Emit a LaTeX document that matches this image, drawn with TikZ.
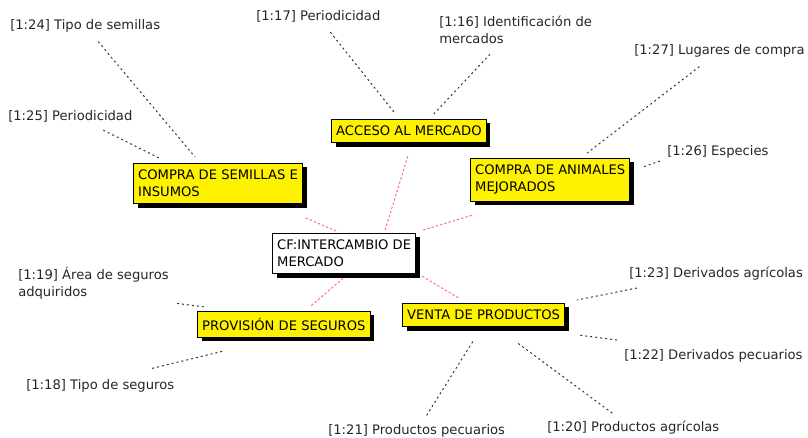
\documentclass[tikz,border=0pt]{standalone}
\usepackage{fontspec}
\setmainfont{DejaVu Sans}
\usetikzlibrary{shadows}

\begin{document}
\begin{tikzpicture}[x=0.75pt,y=-0.75pt,
		every node/.style={font=\fontsize{9.85}{12.75}\selectfont},
		code/.style={draw=black,line width=.75pt,fill=yellow,anchor=north west,align=left,inner xsep=3.5pt,inner ysep=5pt,
			drop shadow={shadow xshift=3pt,shadow yshift=-3pt,fill=black,opacity=1}},
		family/.style={code,fill=white},
		quote/.style={text=black!85,inner sep=0pt,align=left},
		redlink/.style={draw=red!55,line width=.75pt,dash pattern=on 1.8pt off 1.5pt},
		quotelink/.style={draw=black!80,line width=.75pt,dash pattern=on 1.5pt off 2.25pt}]
		\useasboundingbox (0,0) rectangle (808,438);

		\node[family] (cf) at (272,233) {CF:INTERCAMBIO DE\\MERCADO};
		\node[code] (acceso) at (331,119) {ACCESO AL MERCADO};
		\node[code] (semillas) at (133,163) {COMPRA DE SEMILLAS E\\INSUMOS};
		\node[code] (animales) at (470,158) {COMPRA DE ANIMALES\\MEJORADOS};
		\node[code] (provision) at (197,311) {PROVISIÓN DE SEGUROS};
		\node[code] (venta) at (402,303) {VENTA DE PRODUCTOS};

		\node[quote,anchor=west] (l24) at (10,26) {[1:24] Tipo de semillas};
		\node[quote,anchor=west] (l25) at (8,116) {[1:25] Periodicidad};
		\node[quote,anchor=west] (l17) at (256,16) {[1:17] Periodicidad};
		\node[quote,anchor=north west] (l16) at (439,16) {[1:16] Identificación de\\mercados};
		\node[quote,anchor=west] (l27) at (634,51) {[1:27] Lugares de compra};
		\node[quote,anchor=west] (l26) at (667,152) {[1:26] Especies};
		\node[quote,anchor=north west] (l19) at (18,267) {[1:19] Área de seguros\\adquiridos};
		\node[quote,anchor=west] (l18) at (26,386) {[1:18] Tipo de seguros};
		\node[quote,anchor=west] (l23) at (629,274) {[1:23] Derivados agrícolas};
		\node[quote,anchor=west] (l22) at (624,356) {[1:22] Derivados pecuarios};
		\node[quote,anchor=west] (l21) at (328,431) {[1:21] Productos pecuarios};
		\node[quote,anchor=west] (l20) at (547,428) {[1:20] Productos agrícolas};

		\draw[redlink] ([shift={(41,-3)}]cf.north) -- ([shift={(-1,13)}]acceso.south);
		\draw[redlink] ([shift={(-8,-2)}]cf.north) -- ([shift={(1,13)}]semillas.south east);
		\draw[redlink] ([shift={(7,-3)}]cf.north east) -- ([shift={(4,13)}]animales.south west);
		\draw[redlink] ([shift={(-1,4)}]cf.south) -- ([shift={(27,-5)}]provision.north);
		\draw[redlink] ([shift={(6,2)}]cf.south east) -- ([shift={(-25,-5)}]venta.north);

		\draw[quotelink] ([shift={(13,9)}]l24.south) -- ([shift={(-23,-6)}]semillas.north);
		\draw[quotelink] ([shift={(33,8)}]l25.south) -- ([shift={(28,-4)}]semillas.north west);
		\draw[quotelink] ([shift={(12,10)}]l17.south) -- ([shift={(-15,-7)}]acceso.north);
		\draw[quotelink] ([shift={(51,10)}]l16.south west) -- ([shift={(24,-4)}]acceso.north);
		\draw[quotelink] ([shift={(-20,9)}]l27.south) -- ([shift={(37,-5)}]animales.north);
		\draw[quotelink] ([shift={(-7,9)}]l26.west) -- ([shift={(13,-13)}]animales.east);
		\draw[quotelink] ([shift={(8,4)}]l19.south east) -- ([shift={(8,-4)}]provision.north west);
		\draw[quotelink] ([shift={(52,-11)}]l18.north) -- ([shift={(28,13)}]provision.south west);
		\draw[quotelink] ([shift={(8,14)}]l23.west) -- ([shift={(12,-3)}]venta.north east);
		\draw[quotelink] ([shift={(-7,-16)}]l22.west) -- ([shift={(15,8)}]venta.south east);
		\draw[quotelink] ([shift={(10,-9)}]l21.north) -- ([shift={(-10,13)}]venta.south);
		\draw[quotelink] ([shift={(-21,-8)}]l20.north) -- ([shift={(33,15)}]venta.south);
	\end{tikzpicture}
\end{document}
